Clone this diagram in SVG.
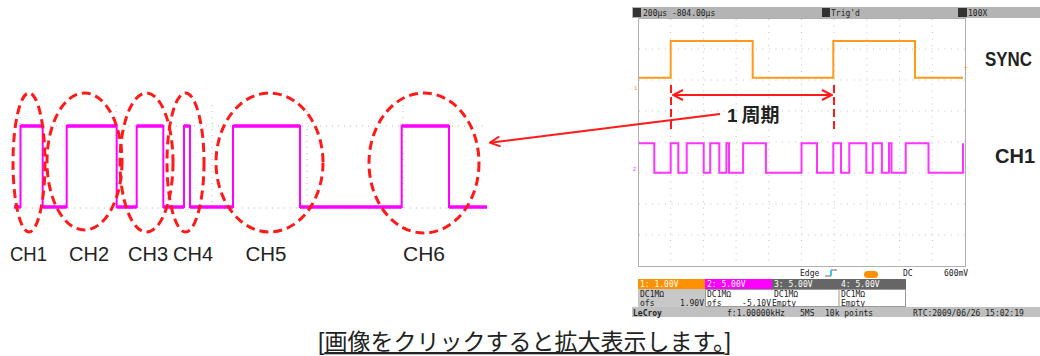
<svg xmlns="http://www.w3.org/2000/svg" width="1040" height="356" viewBox="0 0 1040 356">
<defs>
<marker id="ah" viewBox="0 0 12 12" refX="11" refY="6" markerWidth="12" markerHeight="12" markerUnits="userSpaceOnUse" orient="auto-start-reverse">
<path d="M1,1 L11,6 L1,11" fill="none" stroke="#ff1a1a" stroke-width="2"/>
</marker>
<style>
.grid{stroke:#b8b8b8;stroke-width:1;stroke-dasharray:1 5;fill:none}
.sgrid{stroke:#c4c4c4;stroke-width:1;stroke-dasharray:1 5.5;fill:none}
.ell{fill:none;stroke:#ff1a1a;stroke-width:3;stroke-dasharray:9 5}
.lbl{font-family:"Liberation Sans",Arial,sans-serif;font-size:20px;fill:#222;text-anchor:middle}
.rl{font-family:"Liberation Sans",Arial,sans-serif;font-size:20px;font-weight:bold;fill:#222}
.st{font-family:"DejaVu Sans Mono","Liberation Mono",monospace;font-size:8px;fill:#222}
.sw{font-family:"DejaVu Sans Mono","Liberation Mono",monospace;font-size:8px;fill:#fff}
.red{stroke:#ff1a1a;stroke-width:2;fill:none}
</style>
</defs>
<rect width="1040" height="356" fill="#fff"/>

<g id="left-waveform">
<path class="grid" d="M14,126 H487 M14,208 H487 M116,105 V208 M212,105 V208 M307,105 V208 M403,105 V208 M20,105 V208"/>
<path d="M14,207 H20.5 V126 H42.7 V207 H66.7 V126 H116.7 V207 H136.7 V126 H163.3 V207 H184 V126 H190 V207 H233 V126 H300 V207 H401.7 V126 H449 V207 H487" fill="none" stroke="#ff00ff" stroke-width="2"/>
<path d="M20.5,126 H42.7 M66.7,126 H116.7 M136.7,126 H163.3 M184,126 H190 M233,126 H300 M401.7,126 H449 M14,207 H20.5 M42.7,207 H66.7 M116.7,207 H136.7 M163.3,207 H184 M190,207 H233 M300,207 H401.7 M449,207 H487" fill="none" stroke="#ff00ff" stroke-width="3.5"/>
</g>

<g id="ch1-left"><ellipse class="ell" cx="29" cy="162.5" rx="16" ry="69.5"/><text class="lbl" x="28.5" y="261" textLength="37" lengthAdjust="spacingAndGlyphs">CH1</text></g>
<g id="ch2-left"><ellipse class="ell" cx="84.5" cy="161.5" rx="37.5" ry="68.5"/><text class="lbl" x="89" y="261" textLength="40" lengthAdjust="spacingAndGlyphs">CH2</text></g>
<g id="ch3-left"><ellipse class="ell" cx="146.5" cy="162.5" rx="26.5" ry="69.5"/><text class="lbl" x="148" y="261" textLength="40" lengthAdjust="spacingAndGlyphs">CH3</text></g>
<g id="ch4-left"><ellipse class="ell" cx="185.5" cy="162.5" rx="18.5" ry="69.5"/><text class="lbl" x="193" y="261" textLength="40" lengthAdjust="spacingAndGlyphs">CH4</text></g>
<g id="ch5-left"><ellipse class="ell" cx="269.5" cy="162.5" rx="53.5" ry="69.5"/><text class="lbl" x="266" y="261" textLength="41" lengthAdjust="spacingAndGlyphs">CH5</text></g>
<g id="ch6-left"><ellipse class="ell" cx="424" cy="163" rx="55" ry="70"/><text class="lbl" x="424" y="261" textLength="42" lengthAdjust="spacingAndGlyphs">CH6</text></g>

<g id="scope">
<rect x="632" y="7" width="408" height="11" fill="#b4b4b4"/>
<rect x="633" y="8" width="8" height="9" fill="#333"/>
<text class="st" x="643" y="15.5">200µs -804.00µs</text>
<rect x="822" y="8" width="8" height="9" fill="#333"/>
<text class="st" x="831" y="15.5">Trig'd</text>
<rect x="958" y="8" width="9" height="9" fill="#333"/>
<text class="st" x="968" y="15.5">100X</text>
<rect x="638.5" y="18.5" width="327" height="248" fill="#fff" stroke="#b0b0b0" stroke-width="1"/>
<path class="sgrid" d="M670.7,19 V266 M703.4,19 V266 M736.1,19 V266 M768.8,19 V266 M801.5,19 V266 M834.2,19 V266 M866.9,19 V266 M899.6,19 V266 M932.3,19 V266 M639,49 H965 M639,80 H965 M639,111 H965 M639,142 H965 M639,173 H965 M639,204 H965 M639,235 H965"/>
<path d="M639,77.7 H670.7 V41 H752.7 V77.7 H833.3 V41 H915 V77.7 H963" fill="none" stroke="#ff9a1a" stroke-width="2"/>
<text x="634" y="90" font-family="Liberation Sans,sans-serif" font-size="6" fill="#ff9a1a">1</text>
<text x="964" y="71" font-family="Liberation Sans,sans-serif" font-size="6" fill="#ff9a1a">T</text>
<path d="M639,143.3 H654.3 V172.7 H670.7 V143.3 H678.3 V172.7 H686.7 V143.3 H703.7 V172.7 H710.2 V143.3 H719.3 V172.7 H726.4 V143.3 H729 V172.7 H743.1 V143.3 H765.9 V172.7 H801.5 V143.3 H817 V172.7 H833.3 V143.3 H841 V172.7 H849.3 V143.3 H866.3 V172.7 H872.8 V143.3 H881.9 V172.7 H889 V143.3 H891.5 V172.7 H905.7 V143.3 H928.5 V172.7 H963 V143.3" fill="none" stroke="#ff33ff" stroke-width="2"/>
<text x="633" y="171" font-family="Liberation Sans,sans-serif" font-size="6" fill="#ff33ff">2</text>
<text class="rl" x="985" y="66" textLength="47" lengthAdjust="spacingAndGlyphs">SYNC</text>
<text class="rl" x="995" y="163" textLength="40" lengthAdjust="spacingAndGlyphs">CH1</text>

<text class="st" x="800" y="276" fill="#444">Edge</text>
<path d="M825,276 H831 V270 H837" fill="none" stroke="#666" stroke-width="1"/>
<rect x="830" y="270" width="2" height="5" fill="#33ccff"/>
<rect x="864" y="271" width="14" height="7" rx="3.5" fill="#ff9000"/>
<text class="st" x="903" y="276">DC</text>
<text class="st" x="944" y="276">600mV</text>

<rect x="638" y="279" width="67" height="10" fill="#ff9000"/>
<rect x="705" y="279" width="67" height="10" fill="#ff00ff"/>
<rect x="772" y="279" width="67" height="10" fill="#666"/>
<rect x="839" y="279" width="67" height="10" fill="#666"/>
<text class="sw" x="640" y="287">1: 1.00V</text>
<text class="sw" x="707" y="287">2: 5.00V</text>
<text class="sw" x="774" y="287">3: 5.00V</text>
<text class="sw" x="841" y="287">4: 5.00V</text>
<rect x="638" y="289" width="67" height="18" fill="#c8c8c8"/>
<rect x="705.5" y="289.5" width="200" height="17" fill="#fff" stroke="#999" stroke-width="1"/>
<line x1="839" y1="289" x2="839" y2="307" stroke="#999"/>
<text class="st" x="640" y="297">DC1MΩ</text>
<text class="st" x="707" y="297">DC1MΩ</text>
<text class="st" x="774" y="297">DC1MΩ</text>
<text class="st" x="841" y="297">DC1MΩ</text>
<text class="st" x="640" y="305.5">ofs</text>
<text class="st" x="704" y="305.5" text-anchor="end">1.90V</text>
<text class="st" x="707" y="305.5">ofs</text>
<text class="st" x="771" y="305.5" text-anchor="end">-5.10V</text>
<text class="st" x="772" y="305.5">Empty</text>
<text class="st" x="841" y="305.5">Empty</text>
<rect x="632" y="307" width="408" height="10" fill="#c0c0c0"/>
<text class="st" x="633" y="315.5" font-weight="bold">LeCroy</text>
<text class="st" x="727" y="315.5">f:1.00000kHz</text>
<text class="st" x="800" y="315.5">5MS</text>
<text class="st" x="825" y="315.5">10k points</text>
<text class="st" x="913" y="315.5">RTC:2009/06/26 15:02:19</text>
</g>

<g id="period-label">
<text x="727" y="122" font-family="'Liberation Sans','Noto Sans CJK JP',sans-serif" font-size="19" font-weight="bold" fill="#222">1<tspan dx="4">周期</tspan></text>
</g>

<g id="connectors">
<path class="red" stroke-width="2.5" stroke-dasharray="8 4" d="M671,85 V133 M834,85 V133"/>
<line class="red" x1="673" y1="95" x2="832" y2="95" marker-start="url(#ah)" marker-end="url(#ah)"/>
<line class="red" x1="720" y1="114" x2="490" y2="142.7" marker-end="url(#ah)"/>
</g>

<g id="caption">
<text x="318" y="350" font-family="'Liberation Sans','Noto Sans CJK JP',sans-serif" font-size="23" fill="#222">[<tspan text-decoration="underline">画像をクリックすると拡大表示します。</tspan>]</text>
</g>
</svg>
